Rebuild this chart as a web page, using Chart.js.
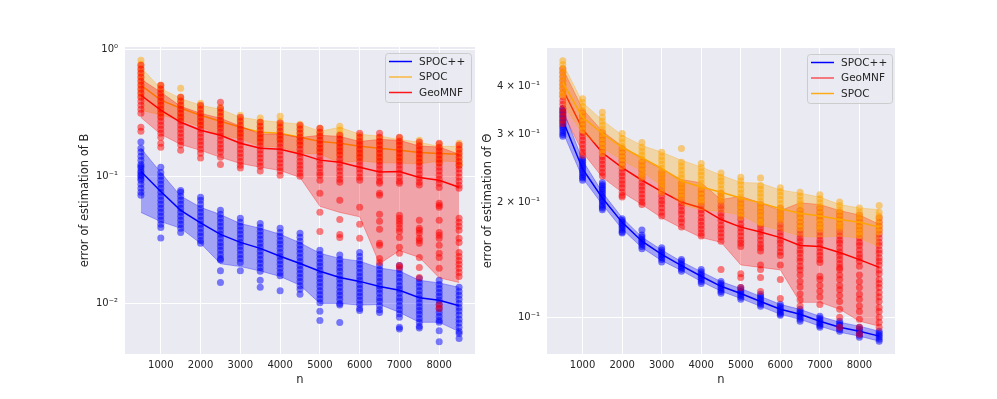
<!DOCTYPE html>
<html>
<head>
<meta charset="utf-8">
<script src="https://cdn.jsdelivr.net/npm/chart.js@4.4.1/dist/chart.umd.min.js"></script>
<style>
  html, body { margin: 0; padding: 0; background: #fff; }
  body { width: 997px; height: 399px; position: relative; overflow: hidden; }
  canvas { position: absolute; top: 0; }
  #chartB { left: 0; }
  #chartT { left: 480px; }
</style>
</head>
<body>
<canvas id="chartB" width="480" height="399"></canvas>
<canvas id="chartT" width="517" height="399"></canvas>
<script>
// ---- shared axis data ----
const N_VALUES = [500, 1000, 1500, 2000, 2500, 3000, 3500, 4000, 4500, 5000, 5500, 6000, 6500, 7000, 7500, 8000, 8500];
const X_TICKS = [1000, 2000, 3000, 4000, 5000, 6000, 7000, 8000];

// ---- left panel: error of estimation of B ----
const B_Y_TICKS = [1, 0.1, 0.01];
const B_Y_LABELS = ['10⁰', '10⁻¹', '10⁻²'];
const B_LEGEND = ['SPOC++', 'SPOC', 'GeoMNF'];

const B_PP_MEAN = [0.109, 0.076, 0.054, 0.043, 0.0349, 0.0302, 0.0271, 0.0235, 0.0206, 0.0179, 0.016, 0.0149, 0.0136, 0.0127, 0.0111, 0.0106, 0.0096];
const B_PP_LO   = [0.052, 0.044, 0.039, 0.0297, 0.0205, 0.0195, 0.018, 0.0163, 0.0139, 0.01, 0.01, 0.0097, 0.0098, 0.0085, 0.0071, 0.0071, 0.006];
const B_PP_HI   = [0.166, 0.107, 0.07, 0.057, 0.05, 0.0425, 0.039, 0.035, 0.03, 0.0248, 0.0226, 0.0215, 0.019, 0.018, 0.0152, 0.0145, 0.0134];

const B_SPOC_MEAN = [0.521, 0.397, 0.343, 0.302, 0.271, 0.243, 0.222, 0.218, 0.203, 0.188, 0.182, 0.172, 0.166, 0.16, 0.154, 0.151, 0.149];
const B_SPOC_LO   = [0.33, 0.305, 0.276, 0.245, 0.21, 0.197, 0.172, 0.17, 0.152, 0.15, 0.128, 0.132, 0.128, 0.127, 0.125, 0.132, 0.13];
const B_SPOC_HI   = [0.72, 0.49, 0.41, 0.362, 0.337, 0.291, 0.276, 0.266, 0.257, 0.226, 0.243, 0.214, 0.207, 0.195, 0.185, 0.172, 0.172];

const B_GEO_MEAN = [0.434, 0.331, 0.266, 0.23, 0.21, 0.182, 0.166, 0.163, 0.15, 0.134, 0.129, 0.118, 0.108, 0.109, 0.098, 0.093, 0.082];
const B_GEO_LO   = [0.29, 0.214, 0.178, 0.16, 0.141, 0.126, 0.118, 0.111, 0.098, 0.058, 0.052, 0.048, 0.0205, 0.026, 0.023, 0.0159, 0.0146];
const B_GEO_HI   = [0.58, 0.459, 0.355, 0.313, 0.286, 0.248, 0.215, 0.215, 0.202, 0.21, 0.206, 0.188, 0.195, 0.192, 0.173, 0.17, 0.149];

const B_PP_PTS = [
  [0.186, 0.166, 0.155, 0.144, 0.134, 0.124, 0.12, 0.116, 0.11, 0.107, 0.103, 0.1, 0.096, 0.0931, 0.0865, 0.0805, 0.0748, 0.071],
  [0.118, 0.107, 0.1, 0.0931, 0.0865, 0.0805, 0.0748, 0.0696, 0.0647, 0.0602, 0.056, 0.0521, 0.0484, 0.045, 0.0419, 0.0395, 0.0327],
  [0.0774, 0.0748, 0.0696, 0.0647, 0.0602, 0.056, 0.0521, 0.0484, 0.045, 0.0419, 0.039, 0.0362],
  [0.0685, 0.0647, 0.0602, 0.056, 0.0521, 0.0484, 0.045, 0.0419, 0.039, 0.0362, 0.0337, 0.0313, 0.0297],
  [0.054, 0.0502, 0.0467, 0.0434, 0.0404, 0.0376, 0.035, 0.0325, 0.0302, 0.0281, 0.0262, 0.0243, 0.0226, 0.022, 0.0181, 0.0146],
  [0.0467, 0.0434, 0.0404, 0.0376, 0.035, 0.0325, 0.0302, 0.0281, 0.0262, 0.0243, 0.0226, 0.021, 0.0181],
  [0.0426, 0.0397, 0.0369, 0.0343, 0.0319, 0.0297, 0.0276, 0.0257, 0.0239, 0.0222, 0.0207, 0.0192, 0.0179, 0.0152, 0.0134],
  [0.039, 0.0362, 0.0337, 0.0313, 0.0292, 0.0271, 0.0252, 0.0234, 0.0218, 0.0203, 0.0189, 0.0175, 0.0165, 0.0126],
  [0.0356, 0.0331, 0.0308, 0.0287, 0.0267, 0.0248, 0.023, 0.0214, 0.0199, 0.0185, 0.0172, 0.016, 0.0149, 0.0138, 0.0129, 0.0118],
  [0.0262, 0.0243, 0.0226, 0.021, 0.0196, 0.0182, 0.0169, 0.0157, 0.0146, 0.0136, 0.0126, 0.0117, 0.0109, 0.0101, 0.00866, 0.00735],
  [0.024, 0.0222, 0.0207, 0.0192, 0.0179, 0.0166, 0.0155, 0.0144, 0.0134, 0.0124, 0.0116, 0.0108, 0.01, 0.0097, 0.00709],
  [0.0252, 0.0234, 0.0218, 0.0203, 0.0189, 0.0175, 0.0163, 0.0152, 0.0141, 0.0131, 0.0122, 0.0114, 0.0106, 0.00983, 0.00914, 0.0088],
  [0.0199, 0.0185, 0.0172, 0.016, 0.0149, 0.0138, 0.0129, 0.012, 0.0111, 0.0104, 0.0096, 0.0089, 0.0085],
  [0.0199, 0.0185, 0.0172, 0.016, 0.0149, 0.0138, 0.0129, 0.012, 0.0111, 0.0104, 0.0096, 0.0089, 0.0083, 0.0078, 0.0065, 0.0063],
  [0.0157, 0.0146, 0.0136, 0.0126, 0.0117, 0.0109, 0.0101, 0.0094, 0.0088, 0.0082, 0.0076, 0.0071, 0.0066, 0.0064],
  [0.0152, 0.0141, 0.0131, 0.0122, 0.0114, 0.0106, 0.00983, 0.00914, 0.0085, 0.0079, 0.00735, 0.0071, 0.0061, 0.005],
  [0.0134, 0.0124, 0.0116, 0.0108, 0.01, 0.0093, 0.0087, 0.0081, 0.0075, 0.007, 0.0065, 0.006, 0.0058, 0.0053]
];
const B_SPOC_PTS = [
  [0.819, 0.762, 0.708, 0.659, 0.613, 0.57, 0.53, 0.493, 0.459, 0.427],
  [0.52, 0.493, 0.459, 0.427, 0.397, 0.369, 0.343, 0.319, 0.297],
  [0.493, 0.42, 0.397, 0.369, 0.343, 0.319, 0.297, 0.285],
  [0.376, 0.355, 0.331, 0.308, 0.287, 0.267, 0.253],
  [0.35, 0.331, 0.308, 0.287, 0.267, 0.248],
  [0.302, 0.281, 0.262, 0.243, 0.226, 0.21],
  [0.287, 0.267, 0.248, 0.231, 0.215, 0.2, 0.192],
  [0.297, 0.271, 0.252, 0.235, 0.218, 0.203, 0.192],
  [0.257, 0.239, 0.222, 0.207, 0.192, 0.179],
  [0.239, 0.222, 0.207, 0.192, 0.179, 0.166, 0.155],
  [0.248, 0.231, 0.215, 0.2, 0.186, 0.173, 0.161, 0.15],
  [0.21, 0.196, 0.182, 0.169, 0.158, 0.147, 0.139],
  [0.203, 0.189, 0.176, 0.163, 0.152, 0.141, 0.134],
  [0.2, 0.186, 0.173, 0.161, 0.15, 0.139, 0.134],
  [0.192, 0.179, 0.166, 0.155, 0.144, 0.134, 0.129],
  [0.179, 0.166, 0.155, 0.144, 0.134, 0.127],
  [0.182, 0.169, 0.158, 0.147, 0.136, 0.127, 0.122]
];
const B_GEO_PTS = [
  [0.748, 0.695, 0.647, 0.602, 0.56, 0.521, 0.484, 0.45, 0.419, 0.39, 0.362, 0.337, 0.313, 0.243, 0.226],
  [0.52, 0.484, 0.45, 0.419, 0.39, 0.362, 0.337, 0.313, 0.292, 0.271, 0.252, 0.234, 0.218, 0.203, 0.182, 0.169],
  [0.419, 0.39, 0.362, 0.337, 0.313, 0.292, 0.271, 0.252, 0.234, 0.218, 0.203, 0.189, 0.176, 0.16],
  [0.362, 0.337, 0.313, 0.292, 0.271, 0.252, 0.234, 0.218, 0.203, 0.189, 0.176, 0.163, 0.152, 0.139],
  [0.382, 0.343, 0.319, 0.297, 0.276, 0.257, 0.239, 0.222, 0.207, 0.192, 0.179, 0.166, 0.155, 0.141, 0.124],
  [0.292, 0.271, 0.252, 0.234, 0.218, 0.203, 0.189, 0.176, 0.163, 0.152, 0.141, 0.131, 0.122, 0.116],
  [0.266, 0.248, 0.231, 0.215, 0.2, 0.186, 0.173, 0.161, 0.15, 0.139, 0.129, 0.12, 0.11],
  [0.262, 0.243, 0.226, 0.21, 0.196, 0.182, 0.169, 0.158, 0.147, 0.136, 0.127, 0.118, 0.11, 0.102],
  [0.252, 0.234, 0.218, 0.203, 0.189, 0.176, 0.163, 0.152, 0.141, 0.131, 0.122, 0.114, 0.106, 0.1],
  [0.239, 0.222, 0.207, 0.192, 0.179, 0.166, 0.155, 0.144, 0.134, 0.124, 0.116, 0.107, 0.102, 0.0931, 0.0735, 0.0521, 0.0368],
  [0.21, 0.196, 0.182, 0.169, 0.158, 0.147, 0.136, 0.127, 0.118, 0.11, 0.102, 0.0947, 0.0897, 0.0647, 0.0458, 0.0349, 0.033],
  [0.218, 0.203, 0.189, 0.176, 0.163, 0.152, 0.141, 0.131, 0.122, 0.114, 0.106, 0.0982, 0.0931, 0.057, 0.0419, 0.0325],
  [0.218, 0.203, 0.189, 0.176, 0.163, 0.152, 0.141, 0.131, 0.122, 0.114, 0.106, 0.0982, 0.0913, 0.0881, 0.0735, 0.0709, 0.0502, 0.0442, 0.0383, 0.0297, 0.0287, 0.0226, 0.021],
  [0.203, 0.189, 0.176, 0.163, 0.152, 0.141, 0.131, 0.122, 0.114, 0.106, 0.0982, 0.0913, 0.0881, 0.0493, 0.0467, 0.0442, 0.0419, 0.039, 0.0368, 0.033, 0.0276, 0.0248, 0.0199, 0.0192],
  [0.186, 0.173, 0.161, 0.15, 0.139, 0.129, 0.12, 0.112, 0.104, 0.0966, 0.0897, 0.0853, 0.045, 0.039, 0.0376, 0.0356, 0.0325, 0.0313, 0.0297, 0.023, 0.0192, 0.016],
  [0.182, 0.169, 0.158, 0.147, 0.136, 0.127, 0.118, 0.11, 0.102, 0.0947, 0.088, 0.0818, 0.0613, 0.059, 0.057, 0.045, 0.0362, 0.0343, 0.0325, 0.0287, 0.0248, 0.023, 0.0189, 0.0097, 0.0091],
  [0.176, 0.163, 0.152, 0.141, 0.131, 0.122, 0.114, 0.106, 0.0982, 0.0913, 0.0849, 0.0805, 0.0467, 0.0434, 0.0404, 0.0376, 0.0325, 0.0302, 0.0252, 0.0234, 0.0218, 0.0203, 0.0189, 0.0175, 0.0163]
];

// ---- right panel: error of estimation of Theta ----
const T_Y_TICKS = [0.4, 0.3, 0.2, 0.1];
const T_Y_LABELS = ['4 × 10⁻¹', '3 × 10⁻¹', '2 × 10⁻¹', '10⁻¹'];
const T_Y_GRID = [0.1];
const T_LEGEND = ['SPOC++', 'GeoMNF', 'SPOC'];

const T_PP_MEAN = [0.327, 0.244, 0.205, 0.177, 0.158, 0.146, 0.1364, 0.128, 0.1205, 0.1154, 0.11, 0.105, 0.1018, 0.0977, 0.0942, 0.092, 0.0893];
const T_PP_LO   = [0.305, 0.231, 0.197, 0.17, 0.152, 0.1406, 0.1325, 0.124, 0.117, 0.112, 0.1068, 0.1018, 0.0988, 0.0948, 0.0914, 0.0893, 0.0866];
const T_PP_HI   = [0.35, 0.257, 0.212, 0.182, 0.162, 0.15, 0.1398, 0.1316, 0.124, 0.1189, 0.1134, 0.1081, 0.1049, 0.1006, 0.0971, 0.0948, 0.092];

const T_GEO_MEAN = [0.394, 0.31, 0.269, 0.246, 0.228, 0.213, 0.2, 0.193, 0.18, 0.172, 0.167, 0.1615, 0.154, 0.153, 0.1476, 0.1415, 0.135];
const T_GEO_LO   = [0.342, 0.27, 0.232, 0.212, 0.197, 0.182, 0.171, 0.1615, 0.157, 0.137, 0.135, 0.133, 0.1094, 0.1094, 0.105, 0.0977, 0.0948];
const T_GEO_HI   = [0.446, 0.35, 0.306, 0.28, 0.259, 0.244, 0.229, 0.2245, 0.203, 0.207, 0.199, 0.19, 0.199, 0.197, 0.19, 0.185, 0.175];

const T_SPOC_MEAN = [0.41, 0.333, 0.302, 0.278, 0.261, 0.245, 0.227, 0.219, 0.212, 0.205, 0.199, 0.192, 0.187, 0.184, 0.18, 0.177, 0.172];
const T_SPOC_LO   = [0.36, 0.302, 0.277, 0.257, 0.241, 0.22, 0.197, 0.191, 0.189, 0.185, 0.174, 0.169, 0.163, 0.162, 0.163, 0.161, 0.153];
const T_SPOC_HI   = [0.46, 0.364, 0.327, 0.299, 0.281, 0.27, 0.257, 0.247, 0.235, 0.225, 0.224, 0.215, 0.211, 0.206, 0.197, 0.193, 0.191];

const T_PP_PTS = [
  [0.351, 0.347, 0.343, 0.339, 0.335, 0.331, 0.327, 0.323, 0.319, 0.315, 0.312, 0.308, 0.304, 0.3, 0.297],
  [0.26, 0.257, 0.254, 0.251, 0.248, 0.245, 0.242, 0.239, 0.236, 0.233, 0.231, 0.228],
  [0.225, 0.222, 0.22, 0.217, 0.215, 0.212, 0.21, 0.207, 0.205, 0.202, 0.2, 0.197, 0.195, 0.193, 0.191],
  [0.181, 0.179, 0.177, 0.175, 0.173, 0.171, 0.169, 0.167, 0.166],
  [0.169, 0.164, 0.162, 0.16, 0.158, 0.157, 0.155, 0.153, 0.151],
  [0.152, 0.15, 0.148, 0.146, 0.145, 0.143, 0.1415, 0.1395],
  [0.1415, 0.14, 0.138, 0.1365, 0.135, 0.1335, 0.132],
  [0.1333, 0.1316, 0.13, 0.1285, 0.127, 0.1255, 0.124, 0.1225],
  [0.124, 0.1225, 0.121, 0.1196, 0.118, 0.1168, 0.1155],
  [0.1196, 0.1182, 0.1168, 0.1155, 0.1141, 0.1128, 0.1114],
  [0.1148, 0.1135, 0.1121, 0.1108, 0.1095, 0.1082, 0.1069],
  [0.1081, 0.1068, 0.1055, 0.1043, 0.103, 0.102, 0.1012],
  [0.1049, 0.1036, 0.1024, 0.1012, 0.1, 0.0988, 0.0977],
  [0.1006, 0.0994, 0.0982, 0.097, 0.0959, 0.095, 0.0942],
  [0.0977, 0.0965, 0.0953, 0.0942, 0.0931, 0.092],
  [0.0942, 0.0931, 0.092, 0.0909, 0.0898, 0.0887],
  [0.092, 0.0909, 0.0898, 0.0888, 0.0877, 0.0866]
];
const T_GEO_PTS = [
  [0.446, 0.436, 0.425, 0.415, 0.405, 0.396, 0.386, 0.377, 0.368, 0.36, 0.351, 0.343, 0.335, 0.327, 0.32],
  [0.343, 0.335, 0.327, 0.319, 0.312, 0.304, 0.297, 0.29, 0.283, 0.276, 0.27, 0.265],
  [0.304, 0.297, 0.29, 0.283, 0.276, 0.27, 0.263, 0.257, 0.251, 0.245, 0.239, 0.234],
  [0.276, 0.27, 0.263, 0.257, 0.251, 0.245, 0.239, 0.234, 0.228, 0.223, 0.218, 0.212, 0.208, 0.206],
  [0.254, 0.248, 0.242, 0.236, 0.231, 0.225, 0.22, 0.215, 0.21, 0.205, 0.2, 0.197],
  [0.239, 0.234, 0.228, 0.223, 0.218, 0.212, 0.207, 0.202, 0.198, 0.193, 0.188, 0.184],
  [0.224, 0.219, 0.214, 0.209, 0.204, 0.199, 0.195, 0.19, 0.186, 0.181, 0.177, 0.172],
  [0.215, 0.21, 0.205, 0.2, 0.196, 0.191, 0.187, 0.182, 0.178, 0.174, 0.17, 0.166, 0.163],
  [0.211, 0.206, 0.201, 0.196, 0.192, 0.187, 0.183, 0.179, 0.174, 0.17, 0.166, 0.162, 0.158, 0.1333],
  [0.202, 0.197, 0.193, 0.188, 0.184, 0.18, 0.175, 0.171, 0.167, 0.163, 0.159, 0.156, 0.153, 0.13, 0.127, 0.1196],
  [0.197, 0.193, 0.188, 0.184, 0.179, 0.175, 0.171, 0.167, 0.163, 0.159, 0.155, 0.152, 0.149, 0.137, 0.1333, 0.127, 0.1168],
  [0.193, 0.188, 0.184, 0.18, 0.175, 0.171, 0.167, 0.163, 0.159, 0.156, 0.152, 0.148, 0.145, 0.137, 0.1255, 0.1119],
  [0.19, 0.186, 0.182, 0.177, 0.173, 0.169, 0.165, 0.161, 0.158, 0.154, 0.15, 0.147, 0.143, 0.14, 0.136, 0.133, 0.129, 0.124, 0.12, 0.115, 0.111, 0.107],
  [0.193, 0.188, 0.184, 0.18, 0.175, 0.171, 0.167, 0.163, 0.159, 0.156, 0.152, 0.148, 0.145, 0.1415, 0.139, 0.128, 0.1255, 0.121, 0.117, 0.113, 0.108],
  [0.188, 0.184, 0.18, 0.175, 0.171, 0.167, 0.163, 0.159, 0.156, 0.152, 0.148, 0.145, 0.1415, 0.138, 0.135, 0.1333, 0.129, 0.1255, 0.121, 0.118, 0.114, 0.11, 0.105, 0.1, 0.0942],
  [0.185, 0.181, 0.177, 0.173, 0.169, 0.165, 0.161, 0.157, 0.154, 0.15, 0.146, 0.143, 0.14, 0.136, 0.129, 0.124, 0.1196, 0.1148, 0.1114, 0.107, 0.1036, 0.0988, 0.0942, 0.0903],
  [0.182, 0.177, 0.173, 0.169, 0.165, 0.161, 0.157, 0.154, 0.15, 0.147, 0.143, 0.14, 0.137, 0.133, 0.13, 0.1255, 0.1225, 0.1196, 0.116, 0.113, 0.11, 0.106, 0.1036, 0.1, 0.097, 0.0942]
];
const T_SPOC_PTS = [
  [0.468, 0.457, 0.446, 0.436, 0.425, 0.415, 0.405, 0.396, 0.386, 0.38],
  [0.372, 0.364, 0.355, 0.347, 0.339, 0.331, 0.323, 0.315, 0.308],
  [0.343, 0.333, 0.325, 0.317, 0.31, 0.302, 0.295, 0.288, 0.281, 0.274, 0.268],
  [0.302, 0.293, 0.286, 0.279, 0.273, 0.266, 0.26, 0.254, 0.248],
  [0.286, 0.278, 0.271, 0.265, 0.259, 0.253, 0.247, 0.241, 0.236, 0.232],
  [0.27, 0.263, 0.257, 0.251, 0.245, 0.239, 0.234, 0.228, 0.223, 0.218, 0.212],
  [0.276, 0.254, 0.248, 0.242, 0.236, 0.231, 0.225, 0.22, 0.215, 0.21, 0.205],
  [0.252, 0.246, 0.24, 0.235, 0.229, 0.224, 0.219, 0.213, 0.208, 0.203, 0.2],
  [0.238, 0.232, 0.227, 0.222, 0.216, 0.211, 0.206, 0.202],
  [0.232, 0.227, 0.222, 0.216, 0.211, 0.206, 0.201, 0.196, 0.192, 0.187, 0.183],
  [0.231, 0.221, 0.216, 0.211, 0.206, 0.201, 0.196, 0.192, 0.187, 0.183, 0.178, 0.176],
  [0.218, 0.213, 0.208, 0.203, 0.198, 0.193, 0.188, 0.184, 0.18],
  [0.212, 0.207, 0.202, 0.198, 0.193, 0.188, 0.184, 0.18, 0.175, 0.171],
  [0.209, 0.204, 0.199, 0.195, 0.19, 0.186, 0.181, 0.177, 0.173, 0.17],
  [0.2, 0.196, 0.191, 0.187, 0.182, 0.178, 0.174, 0.171],
  [0.193, 0.188, 0.184, 0.18, 0.175, 0.171, 0.167, 0.164],
  [0.196, 0.188, 0.184, 0.18, 0.175, 0.171, 0.167]
];

// ---- styling ----
const FONT = 'DejaVu Sans';
const TEXT = '#262626';
const BG = '#EAEAF2';
const METHOD_RGB = { 'SPOC++': [0, 0, 255], 'SPOC': [255, 165, 0], 'GeoMNF': [255, 0, 0] };

Chart.defaults.font.family = FONT;
Chart.defaults.color = TEXT;

function rgba(name, a) {
    const c = METHOD_RGB[name];
    return `rgba(${c[0]},${c[1]},${c[2]},${a})`;
}
function toXY(values) {
    return values.map((v, i) => ({ x: N_VALUES[i], y: v }));
}
function toCloud(columns) {
    const out = [];
    columns.forEach((col, i) => col.forEach(v => out.push({ x: N_VALUES[i], y: v })));
    return out;
}

// methods listed bottom layer first; each gets band, scatter, mean line
function buildDatasets(methods) {
    const ds = [];
    methods.forEach((m, k) => {
        const base = 100 - 10 * k;
        ds.push({ data: toXY(m.lo), borderColor: rgba(m.name, 0.3), borderWidth: 1, pointRadius: 0, fill: false, order: base + 3 });
        ds.push({ data: toXY(m.hi), borderColor: rgba(m.name, 0.3), borderWidth: 1, pointRadius: 0,
                  fill: '-1', backgroundColor: rgba(m.name, 0.3), order: base + 3 });
        ds.push({ data: toCloud(m.pts), showLine: false, fill: false, pointRadius: 3.5, pointBorderWidth: 0,
                  pointBackgroundColor: rgba(m.name, 0.5), order: base + 2 });
        ds.push({ data: toXY(m.mean), borderColor: rgba(m.name, 1), borderWidth: 1.5, pointRadius: 0, fill: false, order: base + 1 });
    });
    return ds;
}

const plotBackground = {
    id: 'plotBackground',
    beforeDraw(chart) {
        const { ctx, chartArea: a } = chart;
        ctx.save();
        ctx.fillStyle = BG;
        ctx.fillRect(a.left, a.top, a.right - a.left, a.bottom - a.top);
        ctx.restore();
    }
};

const boxLegend = {
    id: 'boxLegend',
    afterDraw(chart, args, opts) {
        const { ctx, chartArea } = chart;
        const x0 = chartArea.right - opts.inset - opts.width;
        const y0 = chartArea.top + 6;
        ctx.save();
        ctx.beginPath();
        ctx.roundRect(x0 + 0.5, y0 + 0.5, opts.width, 49, 3);
        ctx.fillStyle = 'rgba(234,234,242,0.8)';
        ctx.fill();
        ctx.strokeStyle = '#cccccc';
        ctx.lineWidth = 1;
        ctx.stroke();
        ctx.font = `10.5px "${FONT}"`;
        ctx.textBaseline = 'middle';
        ctx.textAlign = 'left';
        opts.labels.forEach((lab, i) => {
            const y = y0 + 8.5 + i * 15.5;
            ctx.strokeStyle = opts.colors[i];
            ctx.lineWidth = 1.5;
            ctx.beginPath();
            ctx.moveTo(x0 + 4, y);
            ctx.lineTo(x0 + 27, y);
            ctx.stroke();
            ctx.fillStyle = TEXT;
            ctx.fillText(lab, x0 + 34, y + 0.5);
        });
        ctx.restore();
    }
};

function makeChart(canvasId, cfg) {
    return new Chart(document.getElementById(canvasId), {
        type: 'line',
        data: { datasets: cfg.datasets },
        options: {
            responsive: false,
            animation: false,
            devicePixelRatio: 1,
            layout: { padding: cfg.padding },
            plugins: {
                legend: { display: false },
                tooltip: { enabled: false },
                boxLegend: cfg.legend
            },
            scales: {
                x: {
                    type: 'linear', min: 100, max: 8900,
                    afterBuildTicks: ax => { ax.ticks = X_TICKS.map(v => ({ value: v })); },
                    afterFit: ax => { ax.height = 45; },
                    ticks: { callback: v => String(v), padding: 5, maxRotation: 0, autoSkip: false,
                             font: { size: 10 }, color: TEXT },
                    grid: { color: '#ffffff', lineWidth: 1, drawTicks: false },
                    border: { display: false },
                    title: { display: true, text: 'n', font: { size: 11.5 }, color: TEXT, padding: { top: 0, bottom: 12 } }
                },
                y: {
                    type: 'logarithmic', min: cfg.yMin, max: cfg.yMax,
                    afterBuildTicks: ax => { ax.ticks = cfg.yTicks.map(v => ({ value: v })); },
                    afterFit: ax => { ax.width = cfg.yWidth; },
                    ticks: { callback: v => cfg.yLabels[cfg.yTicks.indexOf(v)], padding: 7, autoSkip: false,
                             font: { size: 10 }, color: TEXT },
                    grid: { color: c => (c.tick && cfg.yGrid.includes(c.tick.value)) ? '#ffffff' : 'rgba(0,0,0,0)',
                            lineWidth: 1, drawTicks: false },
                    border: { display: false },
                    title: { display: true, text: cfg.yTitle, font: { size: 11.5 }, color: TEXT,
                             padding: { top: cfg.yTitlePad, bottom: 0 } }
                }
            }
        },
        plugins: [plotBackground, boxLegend]
    });
}

makeChart('chartB', {
    padding: { left: 0, right: 5, top: 47, bottom: 0 },
    yWidth: 125, yTitlePad: 78, yTitle: 'error of estimation of B',
    yMin: 0.004, yMax: 1.04, yTicks: B_Y_TICKS, yLabels: B_Y_LABELS, yGrid: B_Y_TICKS,
    legend: { labels: B_LEGEND, width: 86, inset: 4,
              colors: ['rgba(0,0,255,1)', 'rgba(255,165,0,0.75)', 'rgba(255,0,0,0.9)'] },
    datasets: buildDatasets([
        { name: 'SPOC++', mean: B_PP_MEAN, lo: B_PP_LO, hi: B_PP_HI, pts: B_PP_PTS },
        { name: 'SPOC', mean: B_SPOC_MEAN, lo: B_SPOC_LO, hi: B_SPOC_HI, pts: B_SPOC_PTS },
        { name: 'GeoMNF', mean: B_GEO_MEAN, lo: B_GEO_LO, hi: B_GEO_HI, pts: B_GEO_PTS }
    ])
});

makeChart('chartT', {
    padding: { left: 0, right: 102, top: 48, bottom: 0 },
    yWidth: 67, yTitlePad: 1, yTitle: 'error of estimation of Θ',
    yMin: 0.0802, yMax: 0.505, yTicks: T_Y_TICKS, yLabels: T_Y_LABELS, yGrid: T_Y_GRID,
    legend: { labels: T_LEGEND, width: 85, inset: 3,
              colors: ['rgba(0,0,255,1)', 'rgba(255,0,0,0.65)', 'rgba(255,165,0,0.9)'] },
    datasets: buildDatasets([
        { name: 'SPOC++', mean: T_PP_MEAN, lo: T_PP_LO, hi: T_PP_HI, pts: T_PP_PTS },
        { name: 'GeoMNF', mean: T_GEO_MEAN, lo: T_GEO_LO, hi: T_GEO_HI, pts: T_GEO_PTS },
        { name: 'SPOC', mean: T_SPOC_MEAN, lo: T_SPOC_LO, hi: T_SPOC_HI, pts: T_SPOC_PTS }
    ])
});
</script>
</body>
</html>
